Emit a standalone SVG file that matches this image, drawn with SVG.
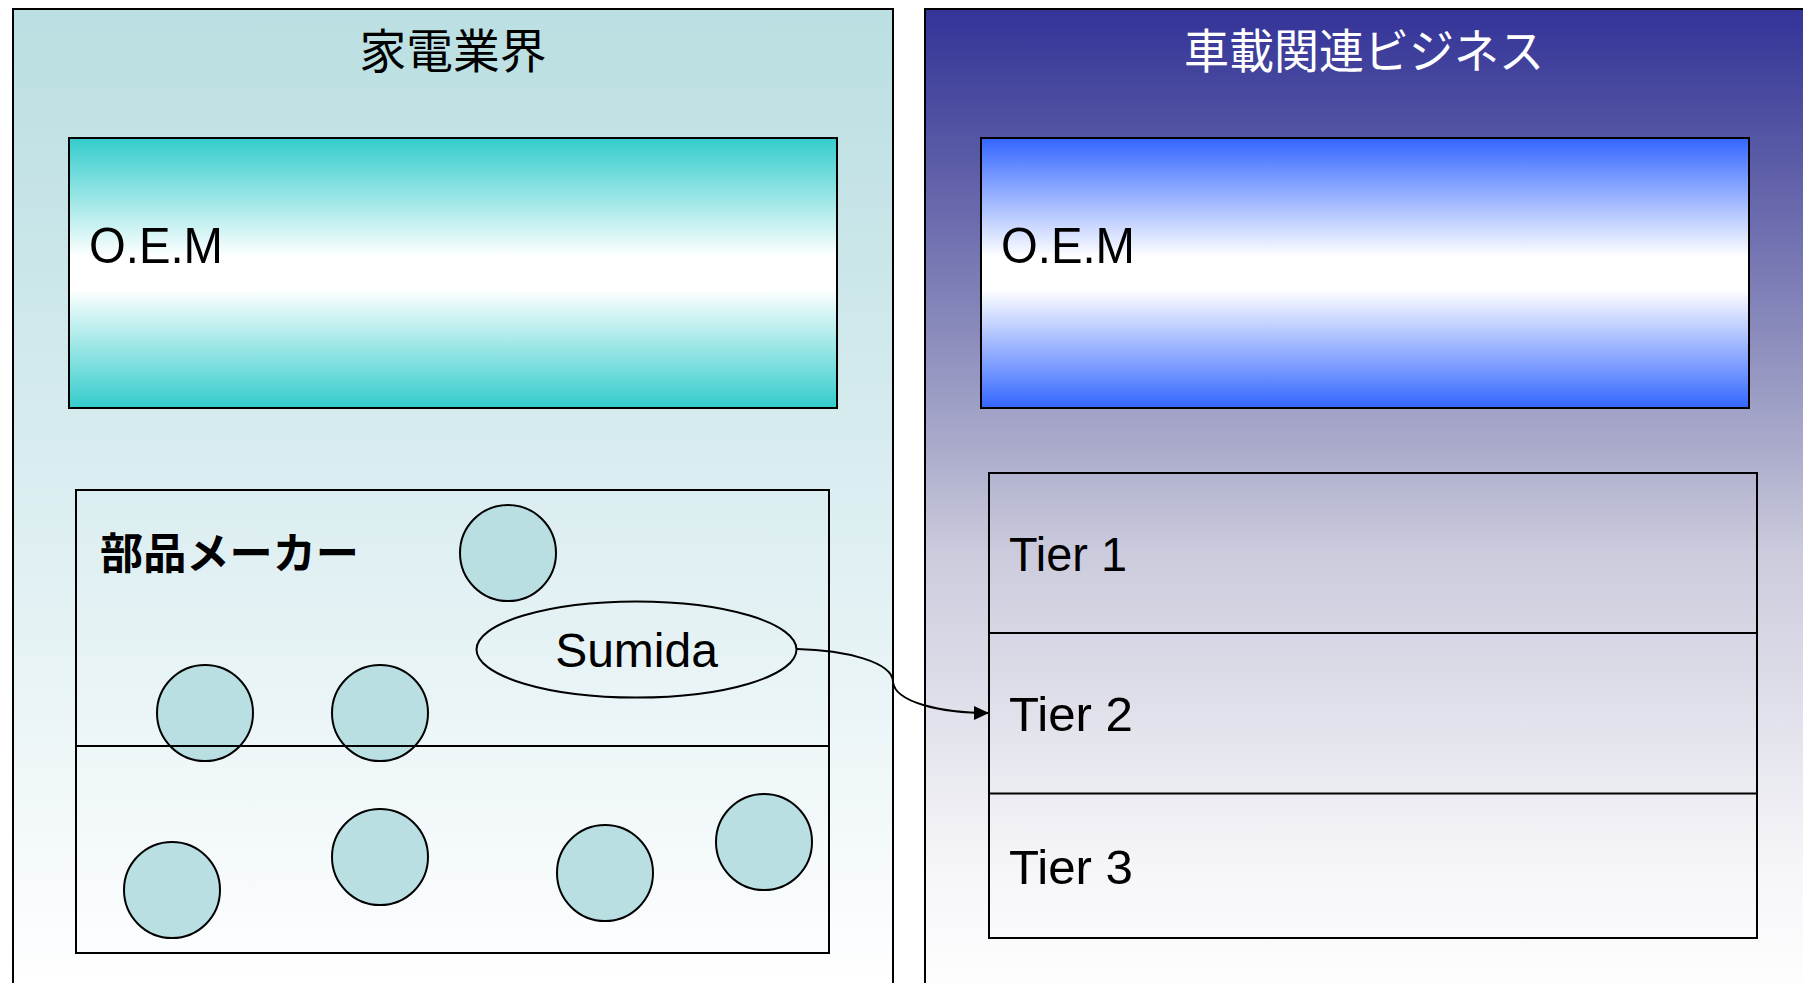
<svg xmlns="http://www.w3.org/2000/svg" width="1803" height="983" viewBox="0 0 1803 983">
  <defs>
    <linearGradient id="gLeftPanel" gradientUnits="userSpaceOnUse" x1="0" y1="9" x2="0" y2="983">
      <stop offset="0" stop-color="#BBDFE2"/>
      <stop offset="0.093" stop-color="#BFE1E4"/>
      <stop offset="0.453" stop-color="#D8ECEF"/>
      <stop offset="0.966" stop-color="#FCFDFE"/>
      <stop offset="1" stop-color="#FFFFFF"/>
    </linearGradient>
    <linearGradient id="gRightPanel" gradientUnits="userSpaceOnUse" x1="0" y1="9" x2="0" y2="983">
      <stop offset="0" stop-color="#333399"/>
      <stop offset="0.093" stop-color="#4A4B9F"/>
      <stop offset="0.453" stop-color="#ABACCB"/>
      <stop offset="0.557" stop-color="#CBCBDD"/>
      <stop offset="0.884" stop-color="#F6F6F9"/>
      <stop offset="1" stop-color="#FDFDFE"/>
    </linearGradient>
    <linearGradient id="gTeal" x1="0" y1="0" x2="0" y2="1">
      <stop offset="0" stop-color="#33CCCC"/>
      <stop offset="0.44" stop-color="#FFFFFF"/>
      <stop offset="0.56" stop-color="#FFFFFF"/>
      <stop offset="1" stop-color="#33CCCC"/>
    </linearGradient>
    <linearGradient id="gBlue" x1="0" y1="0" x2="0" y2="1">
      <stop offset="0" stop-color="#3366FF"/>
      <stop offset="0.44" stop-color="#FFFFFF"/>
      <stop offset="0.56" stop-color="#FFFFFF"/>
      <stop offset="1" stop-color="#3366FF"/>
    </linearGradient>
    <marker id="arrow" markerUnits="userSpaceOnUse" markerWidth="16" markerHeight="14" refX="15" refY="7" orient="auto">
      <path d="M0,0 L15,7 L0,14 Z" fill="#000"/>
    </marker>
    <style>
      .box { fill: none; stroke: #000; stroke-width: 2; }
      .circ { fill: #B9DFE2; stroke: #000; stroke-width: 2; }
      .lat { font-family: "Liberation Sans", Arial, sans-serif; font-size: 48px; fill: #000; }
      .jp { font-family: "Liberation Sans", "Noto Sans CJK JP", sans-serif; font-size: 47px; }
      .conn { fill: none; stroke: #000; stroke-width: 2; }
    </style>
  </defs>

  <rect x="0" y="0" width="1803" height="983" fill="#FFFFFF"/>

  <g id="panel-kaden">
    <rect x="13" y="9" width="880" height="1000" fill="url(#gLeftPanel)" stroke="#000" stroke-width="2"/>
    <text class="jp" x="453" y="68" text-anchor="middle" fill="#000" textLength="187" lengthAdjust="spacingAndGlyphs">家電業界</text>
  </g>

  <g id="panel-shasai">
    <rect x="925" y="9" width="900" height="1000" fill="url(#gRightPanel)" stroke="#000" stroke-width="2"/>
    <text class="jp" x="1364" y="68" text-anchor="middle" fill="#FFFFFF" textLength="360" lengthAdjust="spacingAndGlyphs">車載関連ビジネス</text>
  </g>

  <g id="oem-kaden">
    <rect x="69" y="138" width="768" height="270" fill="url(#gTeal)" stroke="#000" stroke-width="2"/>
    <text class="lat" x="89" y="263" style="font-size:50px" textLength="134" lengthAdjust="spacingAndGlyphs">O.E.M</text>
  </g>

  <g id="oem-shasai">
    <rect x="981" y="138" width="768" height="270" fill="url(#gBlue)" stroke="#000" stroke-width="2"/>
    <text class="lat" x="1001" y="263" style="font-size:50px" textLength="134" lengthAdjust="spacingAndGlyphs">O.E.M</text>
  </g>

  <g id="buhin-maker">
    <rect class="box" x="76" y="490" width="753" height="463"/>
    <text x="100" y="569" style="font-family:'Liberation Sans','Noto Sans CJK JP',sans-serif;font-size:43px;font-weight:bold" fill="#000" textLength="259" lengthAdjust="spacingAndGlyphs">部品メーカー</text>
  </g>

  <g id="makers">
    <circle class="circ" cx="508" cy="553" r="48"/>
    <circle class="circ" cx="205" cy="713" r="48"/>
    <circle class="circ" cx="380" cy="713" r="48"/>
    <circle class="circ" cx="172" cy="890" r="48"/>
    <circle class="circ" cx="380" cy="857" r="48"/>
    <circle class="circ" cx="605" cy="873" r="48"/>
    <circle class="circ" cx="764" cy="842" r="48"/>
  </g>

  <g id="buhin-divider">
    <line x1="76" y1="746" x2="829" y2="746" stroke="#000" stroke-width="2"/>
  </g>

  <g id="sumida">
    <ellipse class="box" cx="636.5" cy="649.5" rx="160" ry="48"/>
    <text class="lat" x="636.5" y="667" text-anchor="middle">Sumida</text>
  </g>

  <g id="tiers">
    <rect class="box" x="989" y="473" width="768" height="465"/>
    <line x1="989" y1="633" x2="1757" y2="633" stroke="#000" stroke-width="2"/>
    <line x1="989" y1="793.5" x2="1757" y2="793.5" stroke="#000" stroke-width="2"/>
    <text class="lat" x="1009" y="570.5" textLength="118" lengthAdjust="spacingAndGlyphs">Tier 1</text>
    <text class="lat" x="1009" y="731" textLength="124" lengthAdjust="spacingAndGlyphs">Tier 2</text>
    <text class="lat" x="1009" y="883.5" textLength="124" lengthAdjust="spacingAndGlyphs">Tier 3</text>
  </g>

  <g id="connectors">
    <path class="conn" d="M797,649 C845,650 893,662 893,682 C895,702 940,713 989,713" marker-end="url(#arrow)"/>
  </g>
</svg>
